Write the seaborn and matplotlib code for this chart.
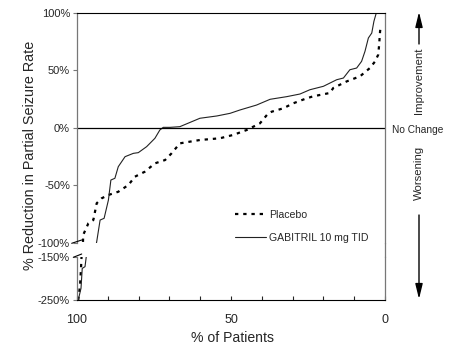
import matplotlib
matplotlib.use("Agg")
import matplotlib.pyplot as plt
from matplotlib.lines import Line2D
from matplotlib.patches import FancyArrowPatch
import pandas as pd
import seaborn as sns

# Values (x = % of patients, y = % reduction)
placebo_x = [99.6, 99.0, 98.7, 98.5, 98.0, 96.3, 94.7, 93.6, 92.0, 89.8, 86.6, 83.3,
             81.2, 78.0, 74.7, 71.4, 69.3, 66.6, 60.1, 53.6, 49.3, 44.9, 40.6, 37.9,
             36.8, 33.0, 29.8, 25.4, 23.3, 17.9, 16.8, 12.4, 8.1, 4.9, 3.2, 2.2, 1.9,
             1.6, 1.4]
placebo_y = [-250, -215, -177, -146, -93.3, -83.1, -80.3, -65.7, -61.4, -58.5, -55.7,
             -49.8, -42.6, -38.3, -31.0, -28.1, -22.3, -13.6, -10.7, -9.2, -6.3, -2.0,
             3.8, 12.5, 13.9, 16.9, 21.2, 25.6, 27.3, 30.2, 34.5, 40.3, 44.7, 51.9,
             57.7, 63.5, 72.2, 83.8, 88.0]

gabitril_x = [99.6, 98.7, 98.5, 98.3, 97.4, 96.9, 93.6, 92.5, 91.2, 89.8, 89.0, 87.7,
              86.6, 84.4, 81.7, 80.1, 77.4, 74.7, 73.1, 72.0, 69.8, 66.6, 60.1, 54.6,
              50.3, 47.1, 41.7, 37.3, 31.9, 27.6, 24.4, 20.0, 15.7, 13.5, 11.4, 9.2,
              7.6, 6.5, 5.4, 4.3, 3.6, 2.7]
gabitril_y = [-250, -223, -200, -177, -173, -145, -99.1, -80.3, -78.8, -62.9, -45.5,
              -44.0, -33.9, -25.2, -22.3, -21.7, -16.5, -9.2, -2.0, 0.3, 0.3, 0.9, 8.2,
              10.2, 12.5, 15.4, 19.7, 24.7, 27.0, 29.3, 33.0, 36.0, 41.7, 43.2, 50.4,
              51.9, 57.7, 66.4, 78.0, 82.3, 92.5, 101]

upper_ticks = [100, 50, 0, -50, -100]
lower_ticks = [-150, -250]
x_labels = ["0", "50", "100"]

df_p = pd.DataFrame({"x": placebo_x, "y": placebo_y})
df_g = pd.DataFrame({"x": gabitril_x, "y": gabitril_y})

sns.set_style("white")
plt.rcParams["font.family"] = ["Liberation Sans", "DejaVu Sans"]

W, H = 455, 356
fig = plt.figure(figsize=(W / 100, H / 100), dpi=100)

def fx(px):
    return px / W

def fy(py):
    return 1 - py / H

L, R = 77, 385
ax_top = fig.add_axes([fx(L), fy(242.7), fx(R - L), fy(12.7) - fy(242.7)])
ax_bot = fig.add_axes([fx(L), fy(300), fx(R - L), fy(256.7) - fy(300)])

dot_style = (0, (1.5, 2.2))
for ax, show in [(ax_top, True), (ax_bot, False)]:
    sns.lineplot(data=df_p, x="x", y="y", ax=ax, sort=False, estimator=None,
                 color="black", lw=1.6, linestyle=dot_style,
                 label="Placebo" if show else None, legend=show)
    sns.lineplot(data=df_g, x="x", y="y", ax=ax, sort=False, estimator=None,
                 color="#222222", lw=0.8,
                 label="GABITRIL 10 mg TID" if show else None, legend=show)
    ax.set_xlim(100, 0)
    ax.set_xlabel("")
    ax.set_ylabel("")
    for s in ["left", "right"]:
        ax.spines[s].set_color("#777777")
        ax.spines[s].set_linewidth(0.9)

ax_top.set_ylim(-100, 100)
ax_bot.set_ylim(-250, -150)
ax_top.axhline(0, color="black", lw=0.9)

ax_top.spines["bottom"].set_visible(False)
ax_top.spines["top"].set_color("black")
ax_bot.spines["top"].set_visible(False)
ax_bot.spines["bottom"].set_color("black")

ax_top.set_yticks(upper_ticks)
ax_top.set_yticklabels([f"{t}%" for t in upper_ticks])
ax_bot.set_yticks(lower_ticks)
ax_bot.set_yticklabels([f"{t}%" for t in lower_ticks])
for ax in (ax_top, ax_bot):
    ax.tick_params(axis="y", direction="out", length=3, width=0.8, pad=2,
                   labelsize=8, color="#777777", left=True)

ax_top.set_xticks([])
ax_bot.set_xticks([0, 50, 100])
ax_bot.set_xticklabels(x_labels)
ax_bot.set_xticks(list(range(10, 100, 10)), minor=True)
ax_bot.tick_params(axis="x", which="both", direction="in", length=3, width=0.8,
                   bottom=True, pad=10, labelsize=9)

leg = ax_top.legend(loc="upper left", bbox_to_anchor=(fx(235), fy(210)),
                    bbox_transform=fig.transFigure, frameon=False, fontsize=7.6,
                    borderpad=0, borderaxespad=0, handlelength=2.9,
                    handletextpad=0.3, labelspacing=1.2)

# axis break marks and right border across the gap
fig.add_artist(Line2D([fx(71.7), fx(81.7)], [fy(243.3), fy(240)], color="black", lw=0.8))
fig.add_artist(Line2D([fx(73.3), fx(81.7)], [fy(257.3), fy(254)], color="black", lw=0.8))
fig.add_artist(Line2D([fx(R), fx(R)], [fy(242.7), fy(256.7)], color="#777777", lw=0.9))

fig.text(fx(30), fy(155), "% Reduction in Partial Seizure Rate", rotation=90,
         ha="center", va="center", fontsize=10.4)
fig.text(fx(233), fy(338), "% of Patients", ha="center", va="center", fontsize=10.1)
fig.text(fx(418), fy(130), "No Change", ha="center", va="center", fontsize=7.3)
fig.text(fx(419), fy(81), "Improvement", rotation=90, ha="center", va="center", fontsize=8.2)
fig.text(fx(419), fy(173), "Worsening", rotation=90, ha="center", va="center", fontsize=8.2)

arrow = dict(arrowstyle="-|>,head_length=0.9,head_width=0.22", color="black",
             lw=1.0, shrinkA=0, shrinkB=0)
fig.add_artist(FancyArrowPatch((fx(419), fy(44)), (fx(419), fy(12)),
                               transform=fig.transFigure, mutation_scale=10, **arrow))
fig.add_artist(FancyArrowPatch((fx(419), fy(215)), (fx(419), fy(299)),
                               transform=fig.transFigure, mutation_scale=10, **arrow))

fig.savefig("out.png", dpi=100)
